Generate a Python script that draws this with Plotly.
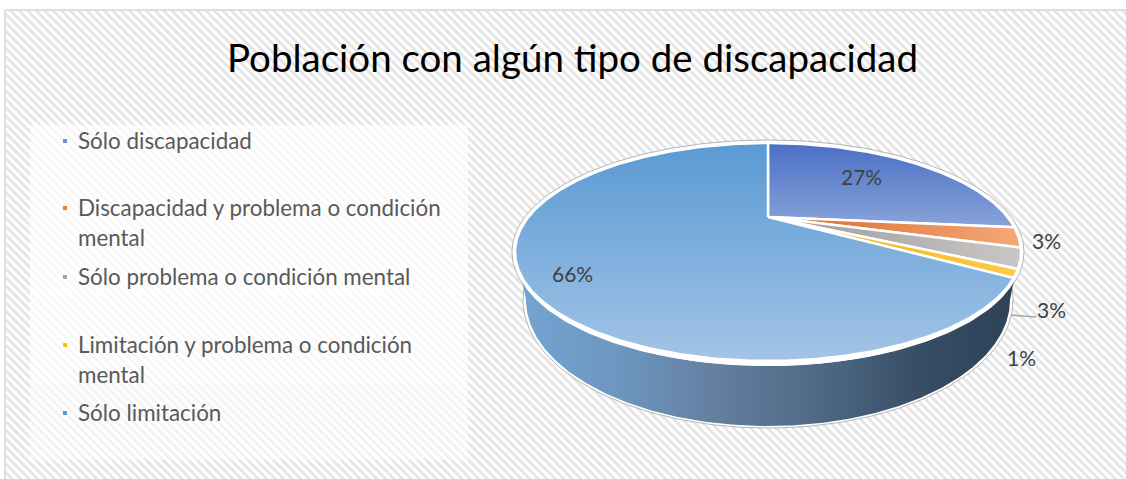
import numpy as np
import plotly.graph_objects as go

# ---- data ----
title_text = "Población con algún tipo de discapacidad"
categories = ["Sólo discapacidad", "Discapacidad y problema o condición\nmental",
              "Sólo problema o condición mental", "Limitación y problema o condición\nmental",
              "Sólo limitación"]
values = [26.6, 3.0, 2.9, 1.2, 66.3]
value_labels = ["27%", "3%", "3%", "1%", "66%"]

# ---- geometry & style ----
W, H = 1126, 479
CX, CY, RX, RY = 768, 252, 253, 109
APEX = -35 / 109          # perspective offset of the pie centre
DEPTH_CY, DEPTH_RX, DEPTH_RY = 300, 242, 126
marker_colors = ["#6f8fd0", "#ed7d31", "#a5a5a5", "#ffc000", "#5b9bd5"]
slice_grad = [
    ("vertical", 143, 235, ["#4a6fc4", "#8ea9dc"]),
    ("horizontal", 770, 1020, ["#d9682a", "#f4a877"]),
    ("horizontal", 770, 1020, ["#9a9a9a", "#c9c7c5"]),
    ("horizontal", 770, 1020, ["#e8ad10", "#ffcc45"]),
    ("vertical", 143, 361, ["#5a9ad4", "#a3c4e6"]),
]
legend_y = [140, 207, 276, 344, 412]
label_xy = [(861, 176.5), (1046.5, 240.5), (1051, 309.5), (1021, 357), (572, 273.5)]


def project(theta):
    """Clockwise angle from 12 o'clock on the disc -> page coordinates."""
    x, y = np.sin(theta), -np.cos(theta)
    d = 1 + APEX * y
    return CX + RX * x * np.sqrt(1 - APEX ** 2) / d, CY + RY * (y + APEX) / d


def ell(cx, cy, rx, ry, a0=0, a1=2 * np.pi, n=240):
    t = np.linspace(a0, a1, n)
    return cx + rx * np.cos(t), cy + ry * np.sin(t)


def grad(kind, a, b, cols):
    return dict(type=kind, start=a, stop=b,
                colorscale=[[i / (len(cols) - 1), c] for i, c in enumerate(cols)])


fig = go.Figure()


def poly(x, y, **kw):
    fig.add_trace(go.Scatter(x=list(x), y=list(y), mode="lines", fill="toself",
                             hoverinfo="skip", showlegend=False, **kw))


NOLINE = dict(width=0, color="rgba(0,0,0,0)")

# hatched chart area
poly([5, W + 2, W + 2, 5, 5], [10, 10, H + 2, H + 2, 10],
     line=dict(width=2, color="#dedede"),
     fillcolor="white",
     fillpattern=dict(shape="\\", size=6, solidity=0.45, fgcolor="#e4e4e4", bgcolor="#ffffff", fillmode="replace"))

# legend panel
poly([30, 468, 468, 30, 30], [125, 125, 460, 460, 125], line=NOLINE,
     fillgradient=grad("vertical", 125, 460, ["rgba(255,255,255,0.65)", "rgba(255,255,255,0.8)", "rgba(255,255,255,0.45)"]))

# silhouette
x, y = ell(CX, DEPTH_CY, DEPTH_RX + 3, DEPTH_RY + 2)
poly(x, y, line=dict(width=1, color="#b5b5b5"), fillcolor="white")
x, y = ell(CX, CY, RX + 3, RY + 3)
poly(x, y, line=dict(width=1, color="#b5b5b5"), fillcolor="white")

# side wall
xl, yl = ell(CX, DEPTH_CY, DEPTH_RX, DEPTH_RY, 0.0, np.pi)
xt, yt = ell(CX, CY + 3, RX - 2, RY + 2, np.pi, 0.0)
poly(np.r_[xl, xt], np.r_[yl, yt], line=NOLINE,
     fillgradient=grad("horizontal", 518, 1018,
                       ["#74a5d4", "#6d96c0", "#647f9f", "#4f6985", "#384e66", "#2d4157"]))

# white rim under the top
x, y = ell(CX, CY + 2, RX + 1, RY + 3)
poly(x, y, line=NOLINE, fillcolor="white")

# slices
cum = np.cumsum([0] + values) / sum(values) * 2 * np.pi
apex_x, apex_y = CX, CY + RY * APEX
for i in range(len(values)):
    t = np.linspace(cum[i], cum[i + 1], max(4, int(values[i] * 5)))
    px, py = project(t)
    kind, a, b, cols = slice_grad[i]
    poly(np.r_[apex_x, px, apex_x], np.r_[apex_y, py, apex_y],
         line=dict(width=2.5, color="white"), fillgradient=grad(kind, a, b, cols), name=categories[i])

# leader line
fig.add_trace(go.Scatter(x=[1011, 1022, 1036], y=[315, 316, 317], mode="lines",
                         line=dict(color="#a6a6a6", width=1.5), hoverinfo="skip", showlegend=False))

# legend markers
fig.add_trace(go.Scatter(x=[65] * 5, y=[v + 1 for v in legend_y], mode="markers",
                         marker=dict(symbol="square", size=4, color=marker_colors, line=dict(width=0)),
                         hoverinfo="skip", showlegend=False))

ann = []
for cat, ly in zip(categories, legend_y):
    for j, line in enumerate(cat.split("\n")):
        ann.append(dict(x=76, y=ly + j * 30, text=line, xanchor="left", yanchor="middle",
                        showarrow=False, xref="x", yref="y",
                        font=dict(family="Lato", size=22.4, color="#595959")))
for txt, (lx, ly) in zip(value_labels, label_xy):
    ann.append(dict(x=lx, y=ly, text=txt, xanchor="center", yanchor="middle",
                    showarrow=False, xref="x", yref="y",
                    font=dict(family="Lato", size=21, color="#404040")))
ann.append(dict(x=572.5, y=57, text=title_text, xanchor="center", yanchor="middle",
                showarrow=False, xref="x", yref="y",
                font=dict(family="Lato", size=38.5, color="#000000")))

fig.update_layout(width=W, height=H, margin=dict(l=0, r=0, t=0, b=0), autosize=False,
                  paper_bgcolor="white", plot_bgcolor="white", annotations=ann,
                  xaxis=dict(range=[0, W], visible=False, fixedrange=True),
                  yaxis=dict(range=[H, 0], visible=False, fixedrange=True),
                  showlegend=False)
fig.write_html("out.html", post_script="document.body.style.margin='0';document.body.style.overflow='hidden';",
               config=dict(displayModeBar=False))
